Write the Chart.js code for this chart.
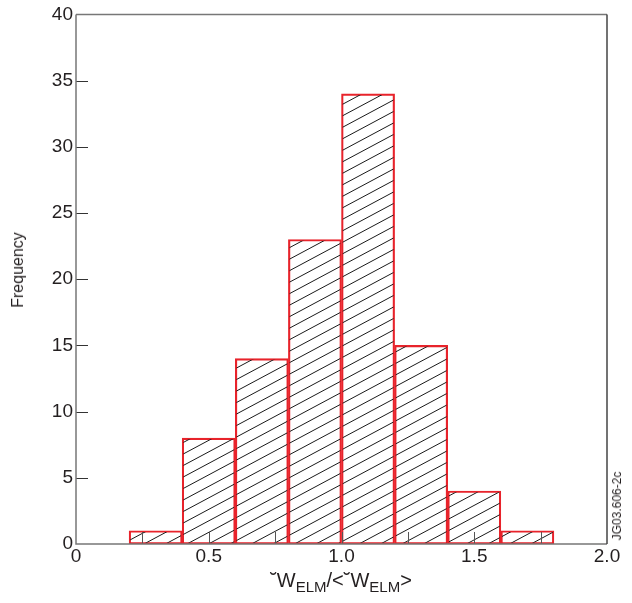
<!DOCTYPE html>
<html>
<head>
<meta charset="utf-8">
<script src="https://cdn.jsdelivr.net/npm/chart.js@4/dist/chart.umd.min.js"></script>
<style>
  body { margin: 0; background: #fff; }
  #wrap { position: relative; width: 632px; height: 603px; font-family: 'Liberation Sans', Arial, sans-serif; color: #231f20; }
  #myChart { position: absolute; left: 0; top: 0; }
  .xlab { position: absolute; left: 0; width: 682px; top: 569px; text-align: center; font-size: 20px; white-space: nowrap; }
  .xlab sub { font-size: 15px; vertical-align: -5px; }
  .ylab { position: absolute; left: 18px; top: 270px; font-size: 16px; white-space: nowrap; transform: translate(-50%, -50%) rotate(-90deg); }
  .code { position: absolute; left: 617px; top: 506px; font-size: 12px; white-space: nowrap; transform: translate(-50%, -50%) rotate(-90deg); }
</style>
</head>
<body>
<div id="wrap">
  <canvas id="myChart" width="632" height="603"></canvas>
  <div class="xlab">˘W<sub>ELM</sub>/&lt;˘W<sub>ELM</sub>&gt;</div>
  <div class="ylab">Frequency</div>
  <div class="code">JG03.606-2c</div>
</div>
<script>
// histogram bins (left edge) and counts
var binStart = [0.2, 0.4, 0.6, 0.8, 1.0, 1.2, 1.4, 1.6];
var binWidth = 0.2;
var counts = [1, 8, 14, 23, 34, 15, 4, 1];
var xTickMarks = [0.25, 0.5, 0.75, 1.0, 1.25, 1.5, 1.75];
var yTickMarks = [5, 10, 15, 20, 25, 30, 35];

// diagonal hatch pattern
function hatch() {
    var c = document.createElement('canvas');
    var w = 43, h = 23;
    c.width = w; c.height = h;
    var g = c.getContext('2d');
    g.strokeStyle = '#1a1a1a';
    g.lineWidth = 1;
    for (var n = 0; n <= 4; n++) {
        g.beginPath();
        g.moveTo(0, n * h / 2);
        g.lineTo(w, n * h / 2 - h);
        g.stroke();
    }
    return g.createPattern(c, 'repeat');
}

var frame = {
    id: 'frame',
    afterDatasetsDraw: function(chart) {
        var ctx = chart.ctx, a = chart.chartArea;
        var xs = chart.scales.x, ys = chart.scales.y;
        ctx.save();
        ctx.lineWidth = 1;
        ctx.strokeStyle = '#333';
        yTickMarks.forEach(function(v) {
            var p = Math.round(ys.getPixelForValue(v)) + 0.5;
            ctx.beginPath(); ctx.moveTo(a.left, p); ctx.lineTo(a.left + 12, p); ctx.stroke();
        });
        ctx.strokeStyle = '#555';
        xTickMarks.forEach(function(v) {
            var p = Math.round(xs.getPixelForValue(v)) + 0.5;
            ctx.beginPath(); ctx.moveTo(p, a.bottom); ctx.lineTo(p, a.bottom - 12); ctx.stroke();
        });
        ctx.lineWidth = 1.5;
        ctx.strokeStyle = '#777';
        ctx.beginPath();
        ctx.moveTo(a.left, a.top); ctx.lineTo(a.left, a.bottom); ctx.lineTo(a.right, a.bottom);
        ctx.moveTo(a.left, a.top); ctx.lineTo(a.right, a.top);
        ctx.stroke();
        ctx.strokeStyle = '#444';
        ctx.beginPath(); ctx.moveTo(a.right, a.top); ctx.lineTo(a.right, a.bottom); ctx.stroke();
        ctx.restore();
    }
};

var tickFont = { family: "'Liberation Sans', Arial, sans-serif", size: 19 };

var ctx = document.getElementById('myChart');
var myChart = new Chart(ctx, {
    type: 'bar',
    data: {
        datasets: [{
            data: binStart.map(function(s, i) { return { x: s + binWidth / 2, y: counts[i] }; }),
            backgroundColor: hatch(),
            borderColor: '#e8232b',
            borderWidth: 1.5,
            borderSkipped: false,
            barPercentage: 1,
            categoryPercentage: 1
        }]
    },
    options: {
        responsive: false,
        animation: false,
        layout: { padding: { left: 0, right: 25, top: 14, bottom: 0 } },
        plugins: { legend: { display: false }, tooltip: { enabled: false } },
        scales: {
            x: {
                type: 'linear', min: 0, max: 2, offset: false,
                grid: { display: false, drawTicks: false, offset: false },
                border: { display: false },
                ticks: {
                    stepSize: 0.5, padding: 1, color: '#231f20', font: tickFont,
                    callback: function(v) { return v === 0 ? '0' : v.toFixed(1); }
                },
                afterFit: function(s) { s.height = 59; }
            },
            y: {
                min: 0, max: 40,
                grid: { display: false, drawTicks: false },
                border: { display: false },
                ticks: { stepSize: 5, padding: 3, color: '#231f20', font: tickFont },
                afterFit: function(s) { s.width = 76; }
            }
        }
    },
    plugins: [frame]
});
</script>
</body>
</html>
